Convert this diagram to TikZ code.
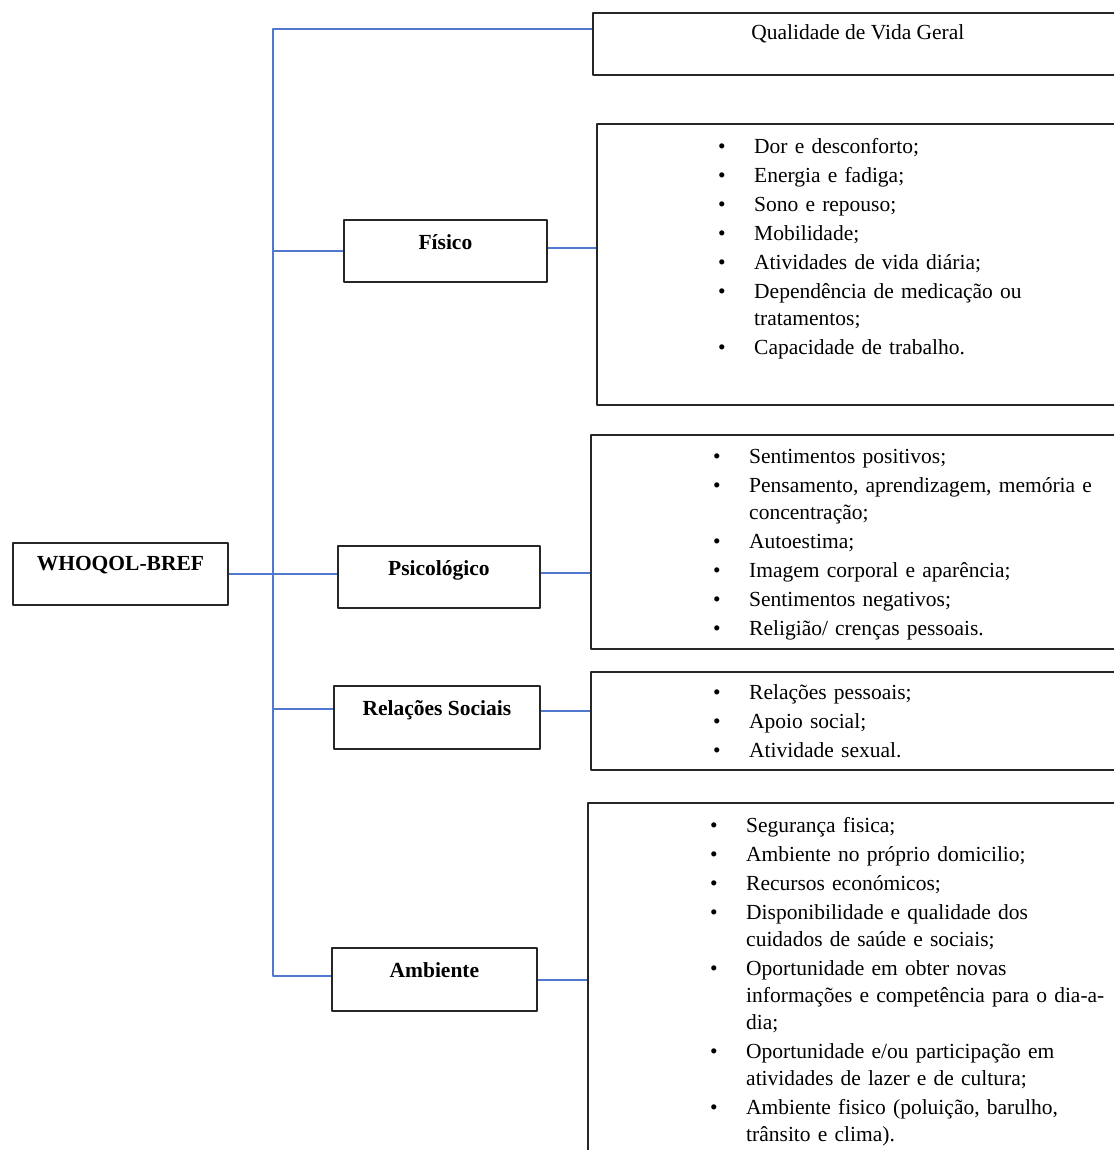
\documentclass[tikz,border=0pt]{standalone}
\usepackage{fontspec}
\setmainfont{Liberation Serif}
\usepackage{tikz}
\definecolor{linkblue}{RGB}{80,120,205}
\newcommand{\listfont}{\fontsize{21.5}{27}\selectfont\setlength{\parskip}{2pt}}
\newcommand{\bitem}[1]{\noindent\hangindent=36pt\hangafter=1%
  \makebox[36pt][l]{\textbullet}\rule{0pt}{17pt}#1\par}

\begin{document}
\begin{tikzpicture}[x=1pt,y=-1pt,line join=round,
  boxframe/.style={draw=black!85,line width=1.8pt,anchor=north west,inner sep=0pt},
  head/.style={boxframe,text height=30pt,text depth=32pt,
    font=\fontsize{21.5}{26}\selectfont\bfseries},
  items/.style={anchor=north west,inner sep=0pt,text width=430pt,font=\listfont\raggedright},
  link/.style={draw=linkblue,line width=1.8pt}]
  \useasboundingbox (0,0) rectangle (1113,1150);
  % left column
  \node[head,minimum width=215pt,text height=28pt,text depth=34pt] (root) at (12,542) {WHOQOL-BREF};
  \node[boxframe,minimum width=530pt,text height=27pt,text depth=35pt,font=\listfont]
    (qual) at (592,12) {Qualidade de Vida Geral};
  \node[head,minimum width=203pt] (fis) at (343,219) {Físico};
  \node[head,minimum width=202pt] (psi) at (337,545) {Psicológico};
  \node[head,minimum width=206pt,text depth=33pt] (rs) at (333,685) {Relações Sociais};
  \node[head,minimum width=205pt,text depth=33pt] (amb) at (331,947) {Ambiente};
  % domain boxes
  \node[boxframe,minimum width=530pt,minimum height=281pt] (fislist) at (596,123) {};
  \node[boxframe,minimum width=540pt,minimum height=214pt] (psilist) at (590,434) {};
  \node[boxframe,minimum width=540pt,minimum height=98pt] (rslist) at (590,671) {};
  \node[boxframe,minimum width=540pt,minimum height=400pt] (amblist) at (587,802) {};
  \node[items] (fisitems) at (718,136) {%
    \bitem{Dor e desconforto;}
    \bitem{Energia e fadiga;}
    \bitem{Sono e repouso;}
    \bitem{Mobilidade;}
    \bitem{Atividades de vida diária;}
    \bitem{Dependência de medicação ou\newline tratamentos;}
    \bitem{Capacidade de trabalho.}};
  \node[items] (psiitems) at (713,446) {%
    \bitem{Sentimentos positivos;}
    \bitem{Pensamento, aprendizagem, memória e\newline concentração;}
    \bitem{Autoestima;}
    \bitem{Imagem corporal e aparência;}
    \bitem{Sentimentos negativos;}
    \bitem{Religião/ crenças pessoais.}};
  \node[items] (rsitems) at (713,682) {%
    \bitem{Relações pessoais;}
    \bitem{Apoio social;}
    \bitem{Atividade sexual.}};
  \node[items] (ambitems) at (710,815) {%
    \bitem{Segurança fisica;}
    \bitem{Ambiente no próprio domicilio;}
    \bitem{Recursos económicos;}
    \bitem{Disponibilidade e qualidade dos\newline cuidados de saúde e sociais;}
    \bitem{Oportunidade em obter novas\newline informações e competência para o dia-a-\newline dia;}
    \bitem{Oportunidade e/ou participação em\newline atividades de lazer e de cultura;}
    \bitem{Ambiente fisico (poluição, barulho,\newline trânsito e clima).}};
  % connectors
  \coordinate (trunk) at (273,29);
  \draw[link] (trunk -| qual.west) -- (trunk) |- ([yshift=3.5pt]amb.west);
  \draw[link] (fis.west) -- (fis.west -| trunk);
  \draw[link] (root.east) -- (root.east -| psi.west);
  \draw[link] ([yshift=8.5pt]rs.west) -- ([yshift=8.5pt]rs.west -| trunk);
  \draw[link] ([yshift=3pt]fis.east) -- ([yshift=3pt]fis.east -| fislist.west);
  \draw[link] ([yshift=4pt]psi.east) -- ([yshift=4pt]psi.east -| psilist.west);
  \draw[link] ([yshift=6.5pt]rs.east) -- ([yshift=6.5pt]rs.east -| rslist.west);
  \draw[link] ([yshift=-0.5pt]amb.east) -- ([yshift=-0.5pt]amb.east -| amblist.west);
\end{tikzpicture}
\end{document}
